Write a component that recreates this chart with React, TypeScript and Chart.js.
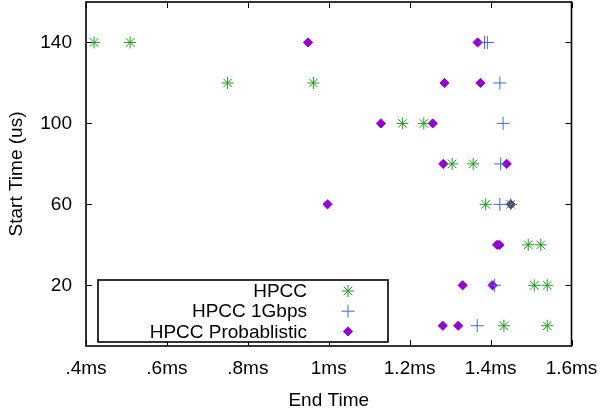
import React, { useEffect, useRef } from "react";
import { Chart, registerables } from "chart.js";

Chart.register(...registerables);

// Y rows (Start Time, us)
const hpccStart = [140, 140, 120, 120, 100, 100, 80, 80, 60, 60, 40, 40, 20, 20, 0, 0];
const hpccEnd = [0.42, 0.509, 0.75, 0.962, 1.182, 1.235, 1.305, 1.357, 1.388, 1.45, 1.493, 1.524, 1.508, 1.54, 1.433, 1.54];

const gbpsStart = [140, 140, 120, 100, 80, 60, 20, 0];
const gbpsEnd = [1.385, 1.392, 1.423, 1.431, 1.425, 1.423, 1.41, 1.367];

const probStart = [140, 140, 120, 120, 100, 100, 80, 80, 60, 60, 40, 40, 20, 20, 0, 0];
const probEnd = [0.949, 1.368, 1.286, 1.375, 1.129, 1.257, 1.283, 1.44, 0.997, 1.45, 1.416, 1.422, 1.331, 1.405, 1.282, 1.32];

const seriesLabels = ["HPCC", "HPCC 1Gbps", "HPCC Probablistic"];

const xTickValues = [0.4, 0.6, 0.8, 1.0, 1.2, 1.4, 1.6];
const xTickLabels = [".4ms", ".6ms", ".8ms", "1ms", "1.2ms", "1.4ms", "1.6ms"];
const yTickValues = [20, 60, 100, 140];
const yTickLabels = ["20", "60", "100", "140"];

const FONT = "Liberation Sans, Arial, Helvetica, sans-serif";
const FS = 19;

const toPoints = (xs: number[], ys: number[]) => xs.map((x, i) => ({ x, y: ys[i] }));

function drawPt(ctx: CanvasRenderingContext2D, s: string, r: number, x: number, y: number) {
  ctx.beginPath();
  if (s === "star" || s === "cross") {
    ctx.moveTo(x - r, y);
    ctx.lineTo(x + r, y);
    ctx.moveTo(x, y - r);
    ctx.lineTo(x, y + r);
    if (s === "star") {
      const d = r * Math.SQRT1_2;
      ctx.moveTo(x - d, y - d);
      ctx.lineTo(x + d, y + d);
      ctx.moveTo(x - d, y + d);
      ctx.lineTo(x + d, y - d);
    }
    ctx.stroke();
  } else {
    ctx.moveTo(x - r, y);
    ctx.lineTo(x, y - r);
    ctx.lineTo(x + r, y);
    ctx.lineTo(x, y + r);
    ctx.closePath();
    ctx.fill();
    ctx.stroke();
  }
}

const framePlugin = {
  id: "frame",
  afterDatasetsDraw(chart: any) {
    const { ctx, chartArea } = chart;
    const { left, right, top, bottom } = chartArea;
    const xs = chart.scales.x;
    const ys = chart.scales.y;
    ctx.save();
    ctx.strokeStyle = "#000";
    ctx.lineWidth = 1;
    const tl = 6;
    ctx.beginPath();
    xTickValues.forEach((v) => {
      const px = Math.round(xs.getPixelForValue(v)) + 0.5;
      ctx.moveTo(px, bottom);
      ctx.lineTo(px, bottom - tl);
      ctx.moveTo(px, top);
      ctx.lineTo(px, top + tl);
    });
    yTickValues.forEach((v) => {
      const py = Math.round(ys.getPixelForValue(v)) + 0.5;
      ctx.moveTo(left, py);
      ctx.lineTo(left + tl, py);
      ctx.moveTo(right, py);
      ctx.lineTo(right - tl, py);
    });
    ctx.stroke();
    ctx.lineWidth = 1.6;
    ctx.strokeRect(left, top, right - left, bottom - top);

    // legend
    const lx = left + 12;
    const ly = bottom - 66;
    const lw = 290;
    const lh = 62;
    ctx.fillStyle = "#fff";
    ctx.fillRect(lx, ly, lw, lh);
    ctx.lineWidth = 1.6;
    ctx.strokeRect(lx, ly, lw, lh);
    ctx.font = `${FS}px ${FONT}`;
    ctx.textAlign = "right";
    ctx.textBaseline = "middle";
    chart.data.datasets.forEach((ds: any, i: number) => {
      const ry = ly + 11 + i * 20.2;
      ctx.fillStyle = "#000";
      ctx.fillText(ds.label, lx + 209, ry + 1);
      ctx.save();
      ctx.strokeStyle = ds.borderColor;
      ctx.fillStyle = ds.backgroundColor;
      ctx.lineWidth = ds.borderWidth;
      drawPt(ctx, ds.pointStyle, ds.pointRadius, lx + 250, ry);
      ctx.restore();
    });
    ctx.restore();
  },
};

export default function App() {
  const ref = useRef<HTMLCanvasElement | null>(null);
  useEffect(() => {
    if (!ref.current) return;
    const chart = new Chart(ref.current, {
      type: "scatter",
      data: {
        datasets: [
          {
            label: seriesLabels[0],
            data: toPoints(hpccEnd, hpccStart),
            pointStyle: "star",
            pointRadius: 6,
            borderColor: "#229a22",
            backgroundColor: "#229a22",
            borderWidth: 1,
          },
          {
            label: seriesLabels[1],
            data: toPoints(gbpsEnd, gbpsStart),
            pointStyle: "cross",
            pointRadius: 6.5,
            borderColor: "#4169e1",
            backgroundColor: "#4169e1",
            borderWidth: 1,
          },
          {
            label: seriesLabels[2],
            data: toPoints(probEnd, probStart),
            pointStyle: "rectRot",
            pointRadius: 4.6,
            borderColor: "#9400d3",
            backgroundColor: "#9400d3",
            borderWidth: 1,
          },
        ] as any,
      },
      options: {
        animation: false,
        responsive: false,
        events: [],
        layout: { autoPadding: false, padding: { top: 2, right: 29.5, left: 0, bottom: 0 } },
        plugins: { legend: { display: false }, tooltip: { enabled: false } },
        scales: {
          x: {
            type: "linear",
            min: 0.4,
            max: 1.6,
            grid: { display: false, drawTicks: false },
            border: { display: false },
            afterBuildTicks: (s: any) => {
              s.ticks = xTickValues.map((v) => ({ value: v }));
            },
            afterFit: (s: any) => {
              s.height = 66;
              s.paddingLeft = 0;
              s.paddingRight = 0;
              s.paddingTop = 0;
              s.paddingBottom = 0;
            },
            ticks: {
              autoSkip: false,
              maxRotation: 0,
              padding: 11,
              color: "#000",
              font: { family: FONT, size: FS },
              callback: (_v: any, i: number) => xTickLabels[i],
            },
            title: {
              display: true,
              text: "End Time",
              color: "#000",
              font: { family: FONT, size: FS },
              padding: { top: 2, bottom: 0 },
            },
          },
          y: {
            type: "linear",
            min: -10,
            max: 160,
            grid: { display: false, drawTicks: false },
            border: { display: false },
            afterBuildTicks: (s: any) => {
              s.ticks = yTickValues.map((v) => ({ value: v }));
            },
            afterFit: (s: any) => {
              s.width = 86;
              s.paddingTop = 0;
              s.paddingBottom = 0;
              s.paddingLeft = 0;
              s.paddingRight = 0;
            },
            ticks: {
              autoSkip: false,
              padding: 14,
              color: "#000",
              font: { family: FONT, size: FS },
              callback: (_v: any, i: number) => yTickLabels[i],
            },
            title: {
              display: true,
              text: "Start Time (us)",
              color: "#000",
              font: { family: FONT, size: FS },
              padding: { top: 5, bottom: 0 },
            },
          },
        },
      },
      plugins: [framePlugin],
    });
    return () => chart.destroy();
  }, []);
  return (
    <div style={{ position: "fixed", left: 0, top: 0, width: 601, height: 412, background: "#fff" }}>
      <canvas ref={ref} width={601} height={412} style={{ width: 601, height: 412 }} />
    </div>
  );
}
